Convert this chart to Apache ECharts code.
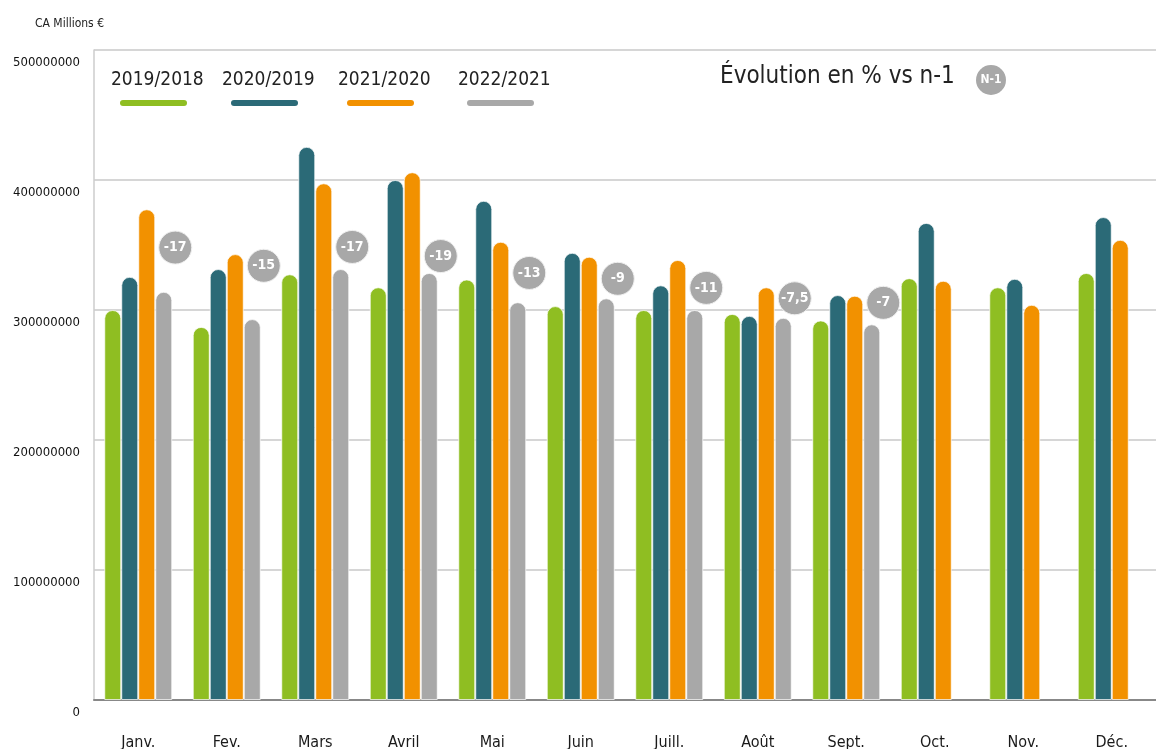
<!DOCTYPE html>
<html>
<head>
<meta charset="utf-8">
<script src="https://cdn.jsdelivr.net/npm/echarts@6/dist/echarts.min.js"></script>
<style>
  html, body { margin: 0; padding: 0; background: #fff; }
  #chart { width: 1156px; height: 749px; }
</style>
</head>
<body>
<div id="chart"></div>
<script>
// months on the x axis
const months = ['Janv.', 'Fev.', 'Mars', 'Avril', 'Mai', 'Juin', 'Juill.', 'Août', 'Sept.', 'Oct.', 'Nov.', 'Déc.']
const seriesNames = ['2019/2018', '2020/2019', '2021/2020', '2022/2021']
const colors = ['#8fbe22', '#2b6a77', '#f29100', '#a8a8a8']

// CA in euros
const ca2019 = [300e6, 287e6, 327.5e6, 317.5e6, 323.5e6, 303e6, 300e6, 297e6, 292e6, 324.5e6, 317.5e6, 328.5e6]
const ca2020 = [325.5e6, 331.5e6, 425.5e6, 400e6, 384e6, 344e6, 319e6, 295.5e6, 311.5e6, 367e6, 324e6, 371.5e6]
const ca2021 = [377.5e6, 343e6, 397.5e6, 406e6, 352.5e6, 341e6, 338.5e6, 317.5e6, 311e6, 322.5e6, 304e6, 354e6]
const ca2022 = [314e6, 293e6, 331.5e6, 328.5e6, 306e6, 309e6, 300e6, 294e6, 289e6, null, null, null]

// evolution badges (% vs n-1) and the level they sit at
const evolution = ['-17', '-15', '-17', '-19', '-13', '-9', '-11', '-7,5', '-7', null, null, null]
const badgeLevel = [348e6, 334e6, 348.5e6, 341.5e6, 328.5e6, 324e6, 317e6, 309e6, 305.5e6, null, null, null]

const yTicks = [0, 100e6, 200e6, 300e6, 400e6, 500e6]

const narrow = 'DejaVu Sans Condensed, Liberation Sans Narrow, sans-serif'

const chart = echarts.init(document.getElementById('chart'))

const values = [ca2019, ca2020, ca2021, ca2022]
const legendX = [111, 222, 338, 458]

const graphic = []
seriesNames.forEach((name, i) => {
  graphic.push({
    type: 'text',
    left: legendX[i],
    top: 71,
    style: {
      text: name,
      fontFamily: narrow,
      fontSize: 19,
      fill: '#222'
    }
  })
  graphic.push({
    type: 'rect',
    left: legendX[i] + 9,
    top: 100,
    shape: { width: 67, height: 6, r: 3 },
    style: { fill: colors[i] }
  })
})
graphic.push({
  type: 'text',
  left: 720,
  top: 65,
  style: {
    text: 'Évolution en % vs n-1',
    fontFamily: narrow,
    fontSize: 24,
    fill: '#222'
  }
})
graphic.push({
  type: 'circle',
  shape: { cx: 991, cy: 80, r: 15 },
  style: { fill: '#a8a8a8' }
})
graphic.push({
  type: 'text',
  x: 991,
  y: 80,
  style: {
    text: 'N-1',
    align: 'center',
    verticalAlign: 'middle',
    fontFamily: narrow,
    fontWeight: 'bold',
    fontSize: 12,
    fill: '#fff'
  }
})

const barSeries = seriesNames.map((name, i) => ({
  name: name,
  type: 'bar',
  data: values[i],
  barWidth: 17,
  barGap: '0%',
  itemStyle: {
    color: colors[i],
    borderRadius: [9, 9, 0, 0],
    borderColor: 'rgba(255,255,255,0.7)',
    borderWidth: 1
  }
}))

const option = {
  animation: false,
  backgroundColor: '#fff',
  title: {
    text: 'CA Millions €',
    left: 30,
    top: 13,
    textStyle: {
      fontFamily: narrow,
      fontSize: 12,
      fontWeight: 'normal',
      color: '#222'
    }
  },
  graphic: graphic,
  grid: { left: 94, right: 0, top: 50, bottom: 49, containLabel: false, outerBoundsMode: 'none' },
  xAxis: {
    type: 'category',
    data: months,
    axisLine: { lineStyle: { color: '#888', width: 2 } },
    axisTick: { inside: true, length: 14, lineStyle: { color: '#bbb' } },
    axisLabel: {
      margin: 35,
      fontFamily: narrow,
      fontSize: 16,
      color: '#1a1a1a'
    }
  },
  yAxis: {
    type: 'value',
    min: yTicks[0],
    max: yTicks[yTicks.length - 1],
    interval: yTicks[1] - yTicks[0],
    axisLine: { show: true, lineStyle: { color: '#ccc', width: 1.5 } },
    axisTick: { show: false },
    splitLine: { lineStyle: { color: '#c8c8c8', width: 1.5 } },
    axisLabel: {
      margin: 14,
      verticalAlign: 'top',
      padding: [6, 0, 0, 0],
      fontFamily: narrow,
      fontSize: 13,
      color: '#111',
      formatter: v => String(v)
    }
  },
  series: barSeries.concat([{
    name: 'evolution',
    type: 'scatter',
    data: badgeLevel.map((v, i) => v == null ? '-' : { value: v, label: { formatter: evolution[i] } }),
    symbol: 'circle',
    symbolSize: 33,
    symbolOffset: [37, 0],
    z: 5,
    itemStyle: { color: '#a8a8a8', borderColor: '#f0f0f0', borderWidth: 1, opacity: 1 },
    label: {
      show: true,
      position: 'inside',
      color: '#fff',
      fontFamily: narrow,
      fontWeight: 'bold',
      fontSize: 14
    }
  }])
}

chart.setOption(option)
</script>
</body>
</html>
